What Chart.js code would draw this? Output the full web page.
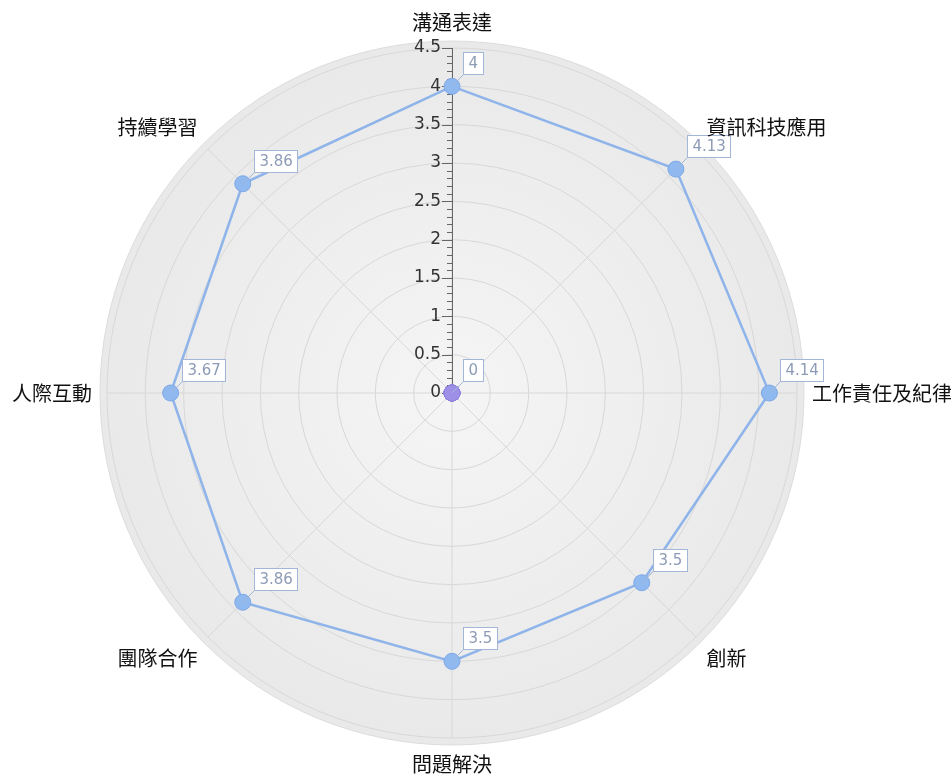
<!DOCTYPE html>
<html>
<head>
<meta charset="utf-8">
<script src="https://cdn.jsdelivr.net/npm/chart.js@4"></script>
<style>
  html, body { margin: 0; padding: 0; background: #fff; }
  #wrap { width: 951px; height: 774px; position: relative; }
</style>
</head>
<body>
<div id="wrap"><canvas id="radar"></canvas></div>
<script>
// Radar of competency scores (0 - 4.5 scale)

const categories = ['溝通表達', '資訊科技應用', '工作責任及紀律', '創新', '問題解決', '團隊合作', '人際互動', '持續學習'];
const scores = [4, 4.13, 4.14, 3.5, 3.5, 3.86, 3.67, 3.86];
const baseline = [0, 0, 0, 0, 0, 0, 0, 0];
const tickValues = [0, 0.5, 1, 1.5, 2, 2.5, 3, 3.5, 4, 4.5];
const scaleMax = 4.5;

// grey disc behind the grid
const discBackground = {
  id: 'discBackground',
  beforeDraw(chart) {
    const s = chart.scales.r;
    const ctx = chart.ctx;
    const cx = s.xCenter, cy = s.yCenter, R = s.drawingArea;
    ctx.save();
    const g = ctx.createRadialGradient(cx, cy, 0, cx, cy, R + 7);
    g.addColorStop(0, '#f5f5f5');
    g.addColorStop(1, '#e9e9e9');
    ctx.beginPath();
    ctx.arc(cx, cy, R + 7, 0, Math.PI * 2);
    ctx.fillStyle = g;
    ctx.fill();
    ctx.lineWidth = 1;
    ctx.strokeStyle = '#dcdcdc';
    ctx.stroke();
    ctx.restore();
  }
};

// category names round the outside, placed from the scale's own point positions
const categoryLabels = {
  id: 'categoryLabels',
  afterDraw(chart) {
    const s = chart.scales.r;
    const ctx = chart.ctx;
    const cx = s.xCenter, cy = s.yCenter;
    ctx.save();
    ctx.font = '20px "Noto Sans CJK TC", sans-serif';
    ctx.fillStyle = '#111';
    ctx.textBaseline = 'middle';
    categories.forEach((name, i) => {
      const p = s.getPointPosition(i, s.drawingArea + 15);
      let y = p.y;
      if (Math.abs(p.x - cx) < 1) ctx.textAlign = 'center';
      else ctx.textAlign = p.x > cx ? 'left' : 'right';
      if (Math.abs(p.y - cy) > 1) y += p.y < cy ? -11 : 11;
      ctx.fillText(name, p.x, y);
    });
    ctx.restore();
  }
};

// vertical value axis with ticks along the top spoke
const valueAxis = {
  id: 'valueAxis',
  beforeDatasetsDraw(chart) {
    const s = chart.scales.r;
    const ctx = chart.ctx;
    const cx = s.xCenter, cy = s.yCenter;
    ctx.save();
    ctx.strokeStyle = '#666';
    ctx.lineWidth = 1;
    ctx.beginPath();
    ctx.moveTo(cx + 0.5, cy);
    ctx.lineTo(cx + 0.5, cy - s.getDistanceFromCenterForValue(scaleMax));
    ctx.stroke();
    // minor ticks every 0.1
    for (let i = 0; i <= 45; i++) {
      const y = Math.round(cy - s.getDistanceFromCenterForValue(i / 10)) + 0.5;
      const len = i % 5 === 0 ? 10 : 5;
      ctx.beginPath();
      ctx.moveTo(cx - len, y);
      ctx.lineTo(cx + 0.5, y);
      ctx.stroke();
    }
    ctx.fillStyle = '#333';
    ctx.font = '17px "DejaVu Sans", sans-serif';
    ctx.textAlign = 'right';
    ctx.textBaseline = 'middle';
    tickValues.forEach(v => {
      const y = cy - s.getDistanceFromCenterForValue(v);
      ctx.fillText(String(v), cx - 11, y);
    });
    ctx.restore();
  }
};

// little boxed value labels next to each point
const valueBoxes = {
  id: 'valueBoxes',
  afterDatasetsDraw(chart) {
    const ctx = chart.ctx;
    ctx.save();
    ctx.font = '15px "DejaVu Sans", sans-serif';
    ctx.textBaseline = 'middle';
    ctx.textAlign = 'left';
    chart.data.datasets.forEach((ds, di) => {
      const meta = chart.getDatasetMeta(di);
      const pts = di === 1 ? meta.data.slice(0, 1) : meta.data;
      pts.forEach((pt, i) => {
        const txt = String(ds.data[i]);
        const w = Math.round(ctx.measureText(txt).width + 10);
        const h = 22;
        const bx = Math.round(pt.x + 11) + 0.5;
        const by = Math.round(pt.y - 12 - h) + 0.5;
        ctx.strokeStyle = '#a3b6d8';
        ctx.lineWidth = 1;
        ctx.beginPath();
        ctx.moveTo(pt.x, pt.y);
        ctx.lineTo(bx, by + h);
        ctx.stroke();
        ctx.fillStyle = '#fff';
        ctx.fillRect(bx, by, w, h);
        ctx.strokeRect(bx, by, w, h);
        ctx.fillStyle = '#8d9bb6';
        ctx.fillText(txt, bx + 5, by + h / 2 + 1);
      });
    });
    ctx.restore();
  }
};

new Chart(document.getElementById('radar'), {
  type: 'radar',
  data: {
    labels: categories,
    datasets: [{
      label: 'score',
      data: scores,
      borderColor: '#8fb4ea',
      borderWidth: 2.5,
      fill: false,
      pointRadius: 8,
      pointHoverRadius: 8,
      pointBackgroundColor: '#90b9f0',
      pointBorderColor: '#7ea8e6',
      pointBorderWidth: 1
    }, {
      label: 'base',
      data: baseline,
      borderColor: '#9d90e6',
      borderWidth: 1,
      fill: false,
      pointRadius: 8,
      pointBackgroundColor: '#9d90e6',
      pointBorderColor: '#8f82dc',
      pointBorderWidth: 1
    }]
  },
  options: {
    responsive: true,
    maintainAspectRatio: false,
    animation: false,
    layout: { padding: { top: 48, bottom: 36, left: 107, right: 154 } },
    plugins: {
      legend: { display: false },
      tooltip: { enabled: false }
    },
    scales: {
      r: {
        min: 0,
        max: scaleMax,
        beginAtZero: true,
        ticks: { display: false, stepSize: 0.5 },
        grid: { circular: true, color: '#d8d8d8', lineWidth: 1 },
        angleLines: { color: '#d8d8d8', lineWidth: 1 },
        pointLabels: { display: false }
      }
    }
  },
  plugins: [discBackground, valueAxis, valueBoxes, categoryLabels]
});
</script>
</body>
</html>
